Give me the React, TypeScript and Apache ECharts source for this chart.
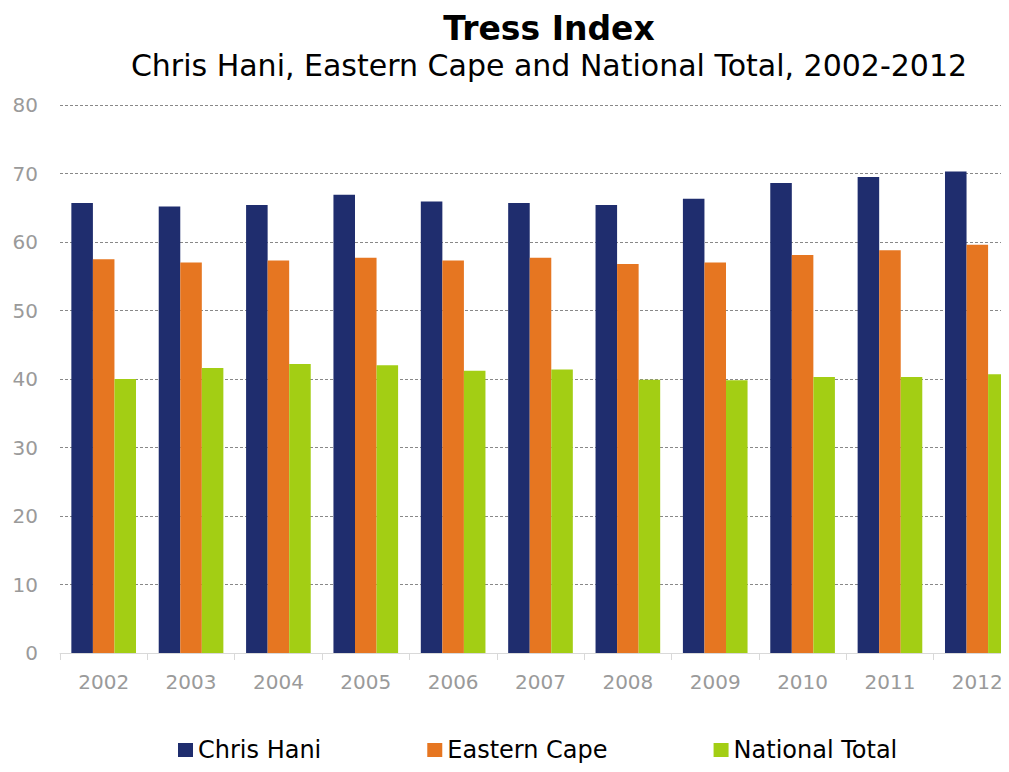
import React, { useEffect, useRef } from "react";
import * as echarts from "echarts";

const years = ["2002", "2003", "2004", "2005", "2006", "2007", "2008", "2009", "2010", "2011", "2012"];
const chrisHani = [65.7, 65.2, 65.4, 66.9, 65.9, 65.7, 65.4, 66.3, 68.6, 69.5, 70.3];
const easternCape = [57.5, 57.0, 57.3, 57.7, 57.3, 57.7, 56.8, 57.0, 58.1, 58.8, 59.6];
const nationalTotal = [40.0, 41.6, 42.2, 42.0, 41.2, 41.4, 39.9, 39.8, 40.3, 40.3, 40.7];

const FONT = "DejaVu Sans";

export default function App() {
  const ref = useRef<HTMLDivElement>(null);
  useEffect(() => {
    const chart = echarts.init(ref.current!, null, { renderer: "svg" });
    chart.setOption({
      animation: false,
      backgroundColor: "#ffffff",
      title: {
        text: "Tress Index",
        subtext: "Chris Hani, Eastern Cape and National Total, 2002-2012",
        left: 544,
        textAlign: "center",
        top: 7,
        itemGap: 5,
        textStyle: { fontFamily: FONT, fontSize: 33, fontWeight: "bold", color: "#000" },
        subtextStyle: { fontFamily: FONT, fontSize: 30, color: "#000" },
      },
      legend: {
        top: 733,
        left: 173,
        itemWidth: 15,
        itemHeight: 14,
        itemGap: 106,
        icon: "rect",
        textStyle: { fontFamily: FONT, fontSize: 24, color: "#000" },
        data: ["Chris Hani", "Eastern Cape", "National Total"],
      },
      grid: { left: 60, width: 961, top: 105, bottom: 119, containLabel: false },
      xAxis: {
        type: "category",
        data: years,
        axisLine: { show: true, lineStyle: { color: "#d9d9d9", width: 1 } },
        axisTick: { show: true, length: 7, lineStyle: { color: "#d9d9d9" } },
        axisLabel: { fontFamily: FONT, fontSize: 20, color: "#9a9a9a", margin: 19 },
      },
      yAxis: {
        type: "value",
        min: 0,
        max: 80,
        interval: 10,
        axisLine: { show: false },
        axisTick: { show: false },
        axisLabel: { fontFamily: FONT, fontSize: 20, color: "#9a9a9a", margin: 22 },
        splitLine: { show: true, lineStyle: { color: "#888888", type: [3, 2], width: 1 } },
      },
      series: [
        { name: "Chris Hani", type: "bar", data: chrisHani, itemStyle: { color: "#1f2d6e" }, barGap: "0%", barCategoryGap: "26%" },
        { name: "Eastern Cape", type: "bar", data: easternCape, itemStyle: { color: "#e67621" } },
        { name: "National Total", type: "bar", data: nationalTotal, itemStyle: { color: "#a3ce14" } },
      ],
    });
    return () => chart.dispose();
  }, []);
  return (
    <div style={{ width: 1009, height: 772, margin: -8, overflow: "hidden", position: "relative" }}>
      <div ref={ref} style={{ width: 1030, height: 772 }} />
    </div>
  );
}
